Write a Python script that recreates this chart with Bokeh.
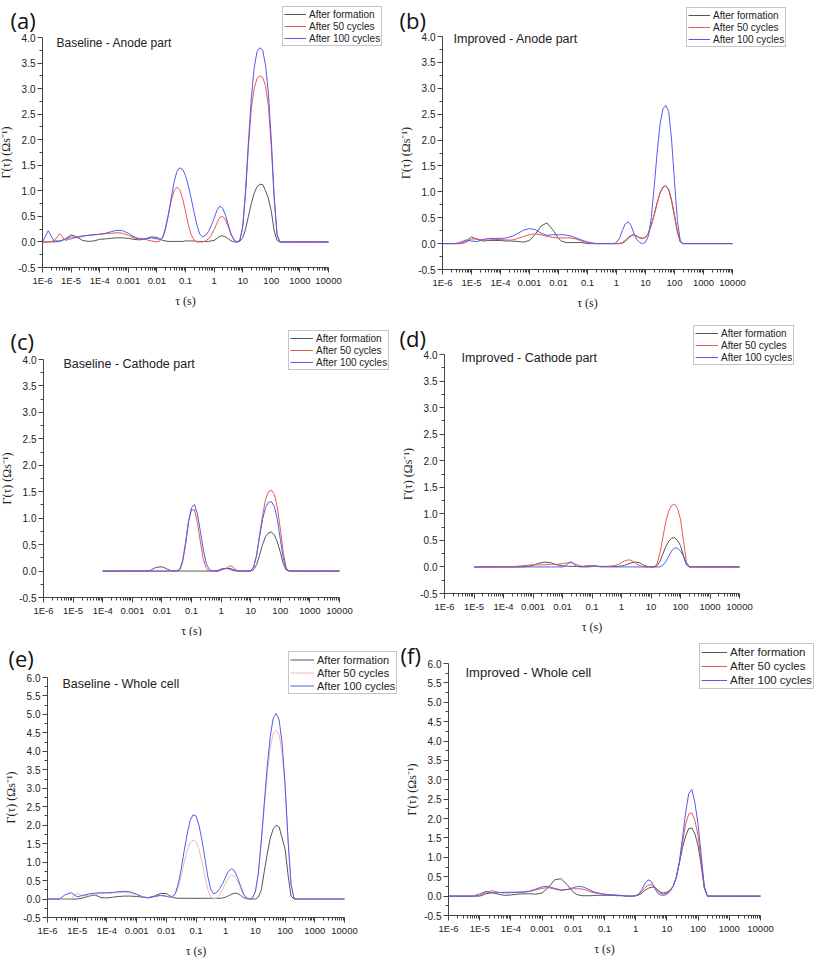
import math
from bokeh.plotting import figure
from bokeh.models import (FixedTicker, NumeralTickFormatter, Legend, LegendItem,
                          Label, Range1d)
from bokeh.layouts import row, column
from bokeh.embed import file_html
from bokeh.resources import INLINE

# ---------------- data ----------------
# sample positions, log10(tau / s)
LOG_TAU = [
    -6.0, -5.8, -5.6, -5.4, -5.2, -5.0, -4.8, -4.6, -4.4, -4.2, -4.0,
    -3.8, -3.6, -3.4, -3.2, -3.0, -2.8, -2.6, -2.4, -2.2, -2.0,
    -1.9, -1.8, -1.7, -1.6, -1.5, -1.4, -1.3, -1.2, -1.1, -1.0, -0.9, -0.8, -0.7, -0.6, -0.5, -0.4,
    -0.3, -0.2, -0.1, 0.0, 0.1, 0.2, 0.3, 0.4, 0.5, 0.6, 0.7, 0.8,
    0.9, 1.0, 1.1, 1.2, 1.3, 1.4, 1.5, 1.6, 1.7, 1.8, 1.9, 2.0, 2.1, 2.2, 2.3, 2.4, 2.5,
    2.75, 3.0, 3.5, 4.0,
]
TAU = [10 ** g for g in LOG_TAU]

SERIES_NAMES = ["After formation", "After 50 cycles", "After 100 cycles"]
X_TICK_VALUES = [1e-06, 1e-05, 1e-04, 1e-03, 1e-02, 1e-01, 1.0, 10.0, 100.0, 1000.0, 10000.0]
X_TICK_LABELS = ["1E-6", "1E-5", "1E-4", "0.001", "0.01", "0.1", "1", "10", "100", "1000", "10000"]

# (a) Baseline - Anode part
A_FORM = [0, 0, 0, 0.01, 0.06, 0.14, 0.1, 0.03, 0.01, 0.02, 0.05, 0.06, 0.07, 0.08, 0.08, 0.07, 0.05, 0.04, 0.06, 0.1, 0.09,
          0.06, 0.03, 0.02, 0.01, 0.01, 0.01, 0.01, 0.01, 0.01, 0.02, 0.02, 0.02, 0.02, 0.01, 0.01, 0.01,
          0.01, 0.01, 0.02, 0.03, 0.07, 0.11, 0.12, 0.1, 0.06, 0.02, 0.0, 0.0,
          0.01, 0.08, 0.25, 0.5, 0.75, 0.95, 1.08, 1.13, 1.12, 1.0, 0.85, 0.6, 0.22, 0.03, 0, 0, 0,
          0, 0, 0, 0]
A_50 = [0, 0, 0.02, 0.16, 0.03, 0.06, 0.1, 0.12, 0.13, 0.14, 0.15, 0.16, 0.17, 0.18, 0.17, 0.13, 0.08, 0.06, 0.05, 0.02, 0.0,
        0.02, 0.08, 0.28, 0.54, 0.8, 1.0, 1.07, 1.02, 0.85, 0.6, 0.33, 0.14, 0.04, 0.0, 0.0, 0.0,
        0.02, 0.06, 0.13, 0.24, 0.37, 0.48, 0.5, 0.43, 0.29, 0.13, 0.03, 0.0,
        0.03, 0.28, 0.95, 1.85, 2.6, 3.0, 3.2, 3.25, 3.22, 3.05, 2.65, 1.85, 0.85, 0.14, 0, 0, 0,
        0, 0, 0, 0]
A_100 = [0, 0.22, 0.02, 0.02, 0.05, 0.1, 0.08, 0.11, 0.13, 0.14, 0.15, 0.17, 0.2, 0.23, 0.22, 0.17, 0.1, 0.06, 0.06, 0.08, 0.06,
         0.05, 0.08, 0.25, 0.52, 0.86, 1.17, 1.38, 1.45, 1.42, 1.3, 1.1, 0.85, 0.58, 0.33, 0.15, 0.1,
         0.13, 0.2, 0.32, 0.46, 0.62, 0.7, 0.66, 0.52, 0.33, 0.15, 0.04, 0.0,
         0.03, 0.3, 1.0, 1.95, 2.8, 3.4, 3.72, 3.8, 3.75, 3.45, 2.9, 2.0, 0.9, 0.15, 0, 0, 0,
         0, 0, 0, 0]

# (b) Improved - Anode part
B_FORM = [0, 0, 0, 0, 0.04, 0.13, 0.08, 0.05, 0.06, 0.06, 0.06, 0.05, 0.05, 0.04, 0.03, 0.06, 0.18, 0.34, 0.4, 0.27, 0.1,
          0.05, 0.03, 0.02, 0.02, 0.02, 0.02, 0.02, 0.02, 0.01, 0.0, 0, 0, 0, 0, 0, 0,
          0, 0, 0, 0, 0, 0.01, 0.04, 0.1, 0.15, 0.17, 0.15, 0.11,
          0.1, 0.12, 0.2, 0.36, 0.56, 0.79, 0.98, 1.09, 1.12, 1.04, 0.82, 0.52, 0.22, 0.03, 0, 0, 0,
          0, 0, 0, 0]
B_50 = [0, 0, 0, 0, 0.02, 0.09, 0.09, 0.07, 0.07, 0.08, 0.08, 0.07, 0.07, 0.1, 0.14, 0.17, 0.19, 0.17, 0.14, 0.12, 0.11,
        0.11, 0.11, 0.11, 0.11, 0.1, 0.09, 0.07, 0.05, 0.03, 0.02, 0.01, 0.0, 0, 0, 0, 0,
        0, 0, 0, 0, 0, 0.02, 0.06, 0.12, 0.16, 0.17, 0.14, 0.11,
        0.1, 0.12, 0.2, 0.35, 0.55, 0.78, 0.97, 1.08, 1.12, 1.05, 0.85, 0.55, 0.25, 0.04, 0, 0, 0,
        0, 0, 0, 0]
B_100 = [0, 0, 0, 0.02, 0.07, 0.05, 0.04, 0.08, 0.1, 0.1, 0.1, 0.11, 0.14, 0.2, 0.26, 0.29, 0.27, 0.2, 0.16, 0.17, 0.17,
         0.17, 0.17, 0.16, 0.15, 0.13, 0.11, 0.09, 0.07, 0.05, 0.03, 0.02, 0.01, 0, 0, 0, 0,
         0, 0, 0, 0.02, 0.1, 0.25, 0.38, 0.42, 0.35, 0.2, 0.08, 0.02,
         0, 0.03, 0.15, 0.5, 1.1, 1.75, 2.3, 2.6, 2.67, 2.55, 2.0, 1.2, 0.45, 0.05, 0, 0, 0,
         0, 0, 0, 0]

# (c) Baseline - Cathode part (starts at 1E-4)
C_FORM = [0, 0, 0, 0, 0, 0, 0, 0, 0.01, 0.07, 0.08,
          0.06, 0.03, 0.01, 0, 0, 0, 0, 0, 0, 0, 0, 0, 0, 0, 0, 0,
          0, 0, 0, 0.02, 0.04, 0.05, 0.05, 0.03, 0.01, 0, 0, 0,
          0, 0, 0.03, 0.12, 0.3, 0.5, 0.65, 0.72, 0.74, 0.68, 0.55, 0.36, 0.14, 0.02, 0, 0, 0,
          0, 0, 0, 0]
C_50 = [0, 0, 0, 0, 0, 0, 0, 0, 0, 0, 0,
        0, 0, 0, 0, 0.01, 0.03, 0.2, 0.55, 0.95, 1.16, 1.16, 0.92, 0.55, 0.22, 0.05, 0.0,
        0, 0, 0, 0.02, 0.04, 0.06, 0.1, 0.08, 0.02, 0, 0, 0,
        0, 0, 0.08, 0.3, 0.68, 1.05, 1.35, 1.5, 1.53, 1.45, 1.2, 0.8, 0.35, 0.06, 0, 0, 0,
        0, 0, 0, 0]
C_100 = [0, 0, 0, 0, 0, 0, 0, 0, 0, 0, 0,
         0, 0, 0, 0, 0, 0.02, 0.17, 0.5, 0.92, 1.2, 1.26, 1.08, 0.75, 0.4, 0.14, 0.03,
         0, 0.01, 0.01, 0.04, 0.05, 0.05, 0.03, 0.01, 0, 0, 0, 0,
         0, 0, 0.08, 0.3, 0.65, 0.98, 1.2, 1.3, 1.31, 1.22, 0.98, 0.6, 0.25, 0.03, 0, 0, 0,
         0, 0, 0, 0]

# (d) Improved - Cathode part (starts at 1E-5)
D_FORM = [0, 0, 0, 0, 0, 0, 0, 0, 0, 0.01, 0.03, 0.07, 0.09, 0.08, 0.04, 0.02,
          0.02, 0.01, 0.01, 0.01, 0.01, 0.01, 0.01, 0.02, 0.02, 0.02, 0.02, 0.01, 0.01, 0.01, 0.01, 0.01,
          0.01, 0.01, 0.01, 0.02, 0.03, 0.05, 0.07, 0.09, 0.09, 0.08, 0.05, 0.02,
          0.01, 0, 0, 0.02, 0.1, 0.24, 0.38, 0.48, 0.54, 0.55, 0.5, 0.4, 0.22, 0.04, 0, 0, 0,
          0, 0, 0, 0]
D_50 = [0, 0, 0, 0, 0, 0, 0, 0.01, 0.02, 0.03, 0.04, 0.04, 0.04, 0.05, 0.05, 0.06,
        0.07, 0.08, 0.08, 0.06, 0.04, 0.02, 0.01, 0.01, 0.02, 0.02, 0.02, 0.01, 0.01, 0.01, 0.01, 0.01,
        0.02, 0.03, 0.05, 0.08, 0.11, 0.13, 0.13, 0.1, 0.06, 0.03, 0.01, 0,
        0, 0, 0, 0.05, 0.25, 0.55, 0.85, 1.05, 1.16, 1.18, 1.1, 0.9, 0.5, 0.1, 0, 0, 0,
        0, 0, 0, 0]
D_100 = [0, 0, 0, 0, 0, 0, 0, 0, 0, 0, 0, 0, 0, 0, 0, 0,
         0.02, 0.07, 0.1, 0.04, 0.01, 0, 0, 0, 0, 0.01, 0.02, 0.01, 0, 0, 0, 0,
         0, 0, 0, 0, 0, 0, 0, 0, 0, 0, 0, 0,
         0, 0, 0, 0, 0, 0.03, 0.1, 0.2, 0.3, 0.36, 0.35, 0.3, 0.2, 0.05, 0, 0, 0,
         0, 0, 0, 0]

# (e) Baseline - Whole cell
E_FORM = [0, 0, 0, 0, 0, 0, 0.03, 0.08, 0.11, 0.04, 0.03, 0.05, 0.07, 0.08, 0.08, 0.07, 0.05, 0.04, 0.08, 0.15, 0.15,
          0.1, 0.05, 0.03, 0.02, 0.02, 0.02, 0.02, 0.02, 0.02, 0.02, 0.02, 0.02, 0.02, 0.02, 0.02, 0.02,
          0.02, 0.02, 0.03, 0.05, 0.09, 0.13, 0.16, 0.15, 0.1, 0.04, 0.01, 0,
          0, 0, 0.05, 0.25, 0.75, 1.23, 1.65, 1.9, 2.0, 1.95, 1.65, 1.35, 0.65, 0.08, 0, 0, 0,
          0, 0, 0, 0]
E_50 = [0, 0, 0, 0, 0.02, 0.16, 0.08, 0.1, 0.13, 0.15, 0.16, 0.16, 0.17, 0.18, 0.16, 0.12, 0.06, 0.03, 0.06, 0.09, 0.07,
        0.05, 0.06, 0.12, 0.32, 0.62, 0.98, 1.3, 1.52, 1.6, 1.55, 1.35, 1.0, 0.6, 0.25, 0.05, 0.0,
        0.03, 0.12, 0.27, 0.43, 0.58, 0.65, 0.62, 0.48, 0.3, 0.12, 0.02, 0,
        0.03, 0.2, 0.7, 1.55, 2.5, 3.4, 4.1, 4.48, 4.57, 4.45, 3.95, 3.0, 1.55, 0.4, 0.02, 0, 0,
        0, 0, 0, 0]
E_100 = [0, 0, 0, 0.12, 0.17, 0.06, 0.1, 0.14, 0.16, 0.17, 0.17, 0.18, 0.2, 0.21, 0.19, 0.13, 0.06, 0.03, 0.07, 0.1, 0.08,
         0.05, 0.07, 0.14, 0.4, 0.8, 1.3, 1.75, 2.12, 2.28, 2.25, 2.0, 1.6, 1.1, 0.6, 0.25, 0.14,
         0.18, 0.28, 0.42, 0.6, 0.76, 0.82, 0.76, 0.58, 0.35, 0.14, 0.03, 0,
         0.03, 0.2, 0.7, 1.6, 2.6, 3.6, 4.4, 4.9, 5.03, 4.85, 4.2, 3.1, 1.6, 0.4, 0.02, 0, 0,
         0, 0, 0, 0]

# (f) Improved - Whole cell
F_FORM = [0, 0, 0, 0, 0, 0, 0.06, 0.09, 0.05, 0.02, 0.03, 0.05, 0.06, 0.06, 0.05, 0.08, 0.22, 0.42, 0.45, 0.3, 0.1,
          0.05, 0.02, 0.01, 0.01, 0.01, 0.01, 0.02, 0.02, 0.02, 0.02, 0.02, 0.02, 0.02, 0.01, 0.01, 0.01,
          0, 0, 0, 0.01, 0.03, 0.08, 0.15, 0.2, 0.23, 0.23, 0.17, 0.1,
          0.08, 0.1, 0.16, 0.25, 0.48, 0.85, 1.25, 1.55, 1.74, 1.76, 1.6, 1.3, 0.78, 0.2, 0, 0, 0,
          0, 0, 0, 0]
F_50 = [0, 0, 0, 0, 0, 0.02, 0.1, 0.14, 0.1, 0.08, 0.09, 0.1, 0.1, 0.12, 0.16, 0.2, 0.22, 0.18, 0.15, 0.17, 0.19,
        0.19, 0.19, 0.18, 0.16, 0.13, 0.1, 0.08, 0.07, 0.06, 0.05, 0.04, 0.03, 0.03, 0.02, 0.02, 0.01,
        0, 0, 0, 0.01, 0.04, 0.12, 0.22, 0.28, 0.3, 0.25, 0.14, 0.07,
        0.05, 0.08, 0.15, 0.25, 0.48, 0.88, 1.4, 1.85, 2.12, 2.15, 1.95, 1.55, 0.9, 0.22, 0, 0, 0,
        0, 0, 0, 0]
F_100 = [0, 0, 0, 0, 0, 0.06, 0.12, 0.08, 0.09, 0.1, 0.1, 0.1, 0.11, 0.13, 0.18, 0.24, 0.25, 0.2, 0.16, 0.17, 0.22,
         0.24, 0.25, 0.24, 0.21, 0.17, 0.13, 0.1, 0.08, 0.06, 0.05, 0.04, 0.03, 0.03, 0.02, 0.02, 0.01,
         0, 0, 0, 0.01, 0.05, 0.18, 0.33, 0.42, 0.38, 0.22, 0.08, 0.03,
         0.02, 0.05, 0.12, 0.25, 0.48, 0.88, 1.5, 2.15, 2.65, 2.75, 2.4, 1.85, 1.05, 0.25, 0, 0, 0,
         0, 0, 0, 0]

# ---------------- styling / layout ----------------
GREY = "#555555"
RED = "#e85858"
PALE_RED = "#f2b8b2"
BLUE = "#5858f0"

# Each figure's canvas is entirely "frame"; axes sit at fixed data locations.
# All geometry below is in page pixels (origin = top-left of page).
PANELS = [
    dict(letter="(a)", title="Baseline - Anode part", series=(A_FORM, A_50, A_100), ymax=4.0, red=RED,
         origin=(0, 0), size=(398, 315), frame=(42, 37, 328, 267),
         letter_xy=(10, 4), title_xy=(56, 35), title_size="12px",
         legend_tl=(282, 8), leg_font="10px", leg_row=12, leg_glyph=22),
    dict(letter="(b)", title="Improved - Anode part", series=(B_FORM, B_50, B_100), ymax=4.0, red=RED,
         origin=(398, 0), size=(425, 315), frame=(442, 36, 732, 269),
         letter_xy=(399, 4), title_xy=(453, 31), title_size="12.5px",
         legend_tl=(686, 9), leg_font="10px", leg_row=12, leg_glyph=22),
    dict(letter="(c)", title="Baseline - Cathode part", series=(C_FORM, C_50, C_100), ymax=4.0, red=RED,
         origin=(0, 315), size=(398, 321), frame=(43, 359, 339, 597),
         letter_xy=(10, 325), title_xy=(63, 356), title_size="12.5px",
         legend_tl=(288, 332), leg_font="10px", leg_row=12, leg_glyph=23),
    dict(letter="(d)", title="Improved - Cathode part", series=(D_FORM, D_50, D_100), ymax=4.0, red=RED,
         origin=(398, 315), size=(425, 321), frame=(444, 354, 739, 593),
         letter_xy=(399, 322), title_xy=(461, 350), title_size="12.5px",
         legend_tl=(693, 327), leg_font="10px", leg_row=12, leg_glyph=23),
    dict(letter="(e)", title="Baseline - Whole cell", series=(E_FORM, E_50, E_100), ymax=6.0, red=PALE_RED,
         origin=(0, 636), size=(398, 326), frame=(47, 677, 344, 917),
         letter_xy=(8, 642), title_xy=(62, 676), title_size="12.5px",
         legend_tl=(288, 653), leg_font="11px", leg_row=13, leg_glyph=24),
    dict(letter="(f)", title="Improved - Whole cell", series=(F_FORM, F_50, F_100), ymax=6.0, red=RED,
         origin=(398, 636), size=(425, 326), frame=(448, 663, 760, 915),
         letter_xy=(400, 639), title_xy=(465, 664), title_size="13px",
         legend_tl=(699, 645), leg_font="11.5px", leg_row=14, leg_glyph=26),
]

X_MINOR = [m * v for v in X_TICK_VALUES[:-1] for m in range(2, 10)]


def make_panel(cfg):
    ox, oy = cfg["origin"]
    W, H = cfg["size"]
    L, T, R, B = cfg["frame"]
    ymax = cfg["ymax"]

    # ranges chosen so that 1E-6..1E4 and -0.5..ymax land on the axis pixels
    dpp = 10.0 / (R - L)
    u0 = -6.0 - (L - ox) * dpp
    u1 = u0 + W * dpp
    upp = (ymax + 0.5) / (B - T)
    y0 = -0.5 - (oy + H - B) * upp
    y1 = ymax + (T - oy) * upp

    p = figure(width=W, height=H, x_axis_type="log",
               x_range=Range1d(10 ** u0, 10 ** u1), y_range=Range1d(y0, y1),
               output_backend="svg", toolbar_location=None, title=None,
               min_border_left=0, min_border_right=0, min_border_top=0, min_border_bottom=0)
    p.outline_line_color = None
    p.xgrid.visible = False
    p.ygrid.visible = False

    # axes, drawn at fixed data positions inside the canvas
    p.xaxis.fixed_location = -0.5
    p.xaxis.bounds = (1e-6, 1e4)
    p.yaxis.fixed_location = 1e-6
    p.yaxis.bounds = (-0.5, ymax)
    p.xaxis.ticker = FixedTicker(ticks=X_TICK_VALUES, minor_ticks=X_MINOR)
    p.xaxis.major_label_overrides = {v: s for v, s in zip(X_TICK_VALUES, X_TICK_LABELS)}
    n_major = int(round((ymax + 0.5) / 0.5)) + 1
    y_major = [-0.5 + 0.5 * i for i in range(n_major)]
    y_minor = [-0.25 + 0.5 * i for i in range(n_major - 1)]
    p.yaxis.ticker = FixedTicker(ticks=y_major, minor_ticks=y_minor)
    p.yaxis.formatter = NumeralTickFormatter(format="0.0")
    for ax in (p.xaxis, p.yaxis):
        ax.axis_line_color = "#444444"
        ax.major_tick_line_color = "#444444"
        ax.minor_tick_line_color = "#444444"
        ax.major_tick_out = 5
        ax.major_tick_in = 0
        ax.minor_tick_out = 3
        ax.minor_tick_in = 0
        ax.major_label_text_font = "Liberation Sans"
        ax.major_label_text_color = "#222222"
        ax.major_label_standoff = 2
        ax.axis_label_text_font = "Liberation Serif"
        ax.axis_label_text_font_style = "normal"
        ax.axis_label_text_font_size = "12px"
        ax.axis_label_text_color = "#222222"
    p.xaxis.major_label_text_font_size = "9.5px"
    p.yaxis.major_label_text_font_size = "10px"
    p.xaxis.axis_label = "τ (s)"
    p.xaxis.axis_label_standoff = 5
    p.yaxis.axis_label = "Γ(τ) (Ωs⁻¹)"
    p.yaxis.axis_label_standoff = 2

    # curves
    colors = (GREY, cfg["red"], BLUE)
    items = []
    for name, vals, col in zip(SERIES_NAMES, cfg["series"], colors):
        xs = TAU[len(TAU) - len(vals):]
        r = p.line(xs, vals, line_color=col, line_width=1.0)
        items.append(LegendItem(label=name, renderers=[r]))

    def sx(X):
        return X - ox

    def sy(Y):
        return oy + H - Y

    # legend (placed from its top-left corner in page coordinates)
    lx, ly = cfg["legend_tl"]
    pad = 1
    leg_h = 3 * cfg["leg_row"] + 2 * pad
    legend = Legend(items=items, location=(sx(lx), sy(ly + leg_h)),
                    label_text_font="Liberation Sans", label_text_font_size=cfg["leg_font"],
                    label_text_color="#222222",
                    glyph_width=cfg["leg_glyph"], glyph_height=cfg["leg_row"],
                    label_height=cfg["leg_row"], label_standoff=3,
                    padding=pad, spacing=0, margin=0,
                    border_line_color="#8c8c8c", border_line_width=1,
                    background_fill_color="white", background_fill_alpha=1.0)
    p.add_layout(legend)

    # panel letter
    tx, ty = cfg["letter_xy"]
    p.add_layout(Label(x=sx(tx), y=sy(ty), x_units="screen", y_units="screen",
                       text=cfg["letter"], text_font="Open Sans", text_font_size="22px",
                       text_color="#111111", text_baseline="top", text_align="left"))
    # panel title
    tx, ty = cfg["title_xy"]
    p.add_layout(Label(x=sx(tx), y=sy(ty), x_units="screen", y_units="screen",
                       text=cfg["title"], text_font="Liberation Sans",
                       text_font_size=cfg["title_size"], text_color="#222222",
                       text_baseline="top", text_align="left"))
    return p


figs = [make_panel(c) for c in PANELS]
layout = column(row(figs[0], figs[1]), row(figs[2], figs[3]), row(figs[4], figs[5]))

with open("out.html", "w") as f:
    f.write(file_html(layout, INLINE))
